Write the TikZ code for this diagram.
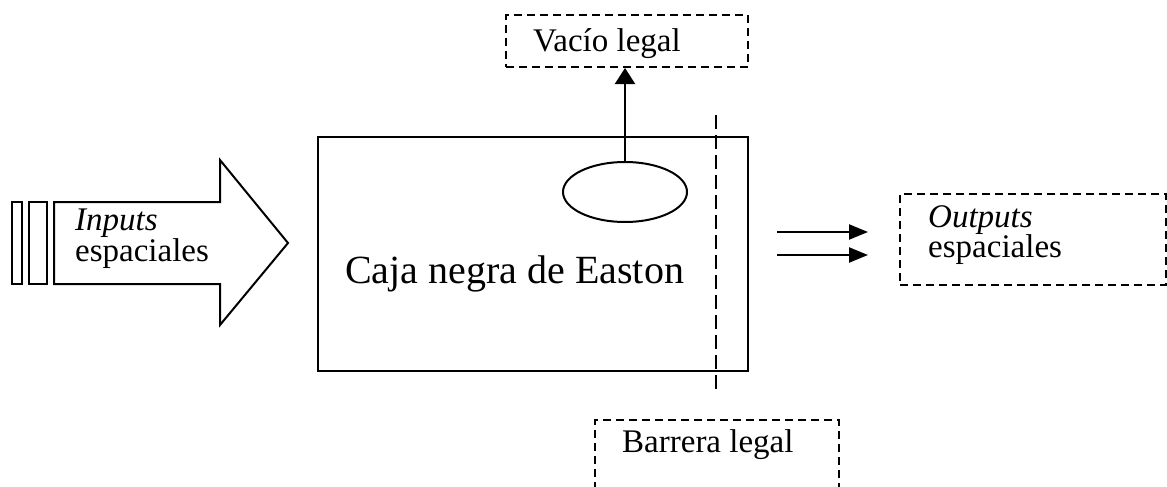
\documentclass[tikz,border=0pt]{standalone}
\usepackage{fontspec}
\setmainfont{Liberation Serif}
\usetikzlibrary{arrows.meta,shapes.geometric}
\begin{document}
\begin{tikzpicture}[x=1pt,y=-1pt,
  solid box/.style={draw, line width=2pt, inner sep=0pt},
  dash box/.style={draw, line width=2pt, dash pattern=on 8pt off 5pt, inner sep=0pt},
  lbl/.style={font=\fontsize{33}{29}\selectfont, inner sep=0pt, anchor=base west},
  two/.style={font=\fontsize{33}{29}\selectfont, inner sep=0pt, anchor=north west, align=left},
  arr/.style={line width=2.2pt, -{Triangle[length=19pt,width=15pt]}}
]
\useasboundingbox (0,0) rectangle (1167,487);
% input arrow
\draw[line width=2pt] (12,202) rectangle (22,284);
\draw[line width=2pt] (29,202) rectangle (47,284);
\draw[line width=2pt, line join=miter] (54,202) -- (220,202) -- (220,160) -- (288,243) -- (220,325) -- (220,284) -- (54,284) -- cycle;
\node[two] (inp) at (75,209) {\textit{Inputs}\\espaciales};
% main box
\node[solid box, minimum width=430pt, minimum height=234pt] (caja) at (533,254) {};
\node[lbl, font=\fontsize{40}{46}\selectfont] (cajat) at (345,283) {Caja negra de Easton};
\node[draw, ellipse, line width=2pt, minimum width=124pt, minimum height=60pt, inner sep=0pt] (ell) at (625,192) {};
% vacio legal
\node[dash box, minimum width=242pt, minimum height=52pt] (vac) at (627,41) {};
\node[lbl] (vact) at (533,52) {Vacío legal};
\draw[line width=2.2pt, -{Triangle[length=16pt,width=20pt]}] (ell.north) -- (ell.north |- vac.south);
% barrier line
\coordinate (b1) at (716,115);
\coordinate (b2) at (716,393);
\draw[line width=2pt, dash pattern=on 14pt off 6pt] (b1) -- (b2);
% barrera legal
\node[dash box, minimum width=244pt, minimum height=100pt] (bar) at (717,470) {};
\node[lbl] (bart) at (622,452) {Barrera legal};
% outputs
\coordinate (o1s) at (777,232);
\coordinate (o1e) at (868,232);
\coordinate (o2s) at (777,255);
\coordinate (o2e) at (868,255);
\draw[arr] (o1s) -- (o1e);
\draw[arr] (o2s) -- (o2e);
\node[dash box, minimum width=266pt, minimum height=91pt] (out) at (1033,239.5) {};
\node[two] (outt) at (928,205) {\textit{Outputs}\\espaciales};
\end{tikzpicture}
\end{document}
